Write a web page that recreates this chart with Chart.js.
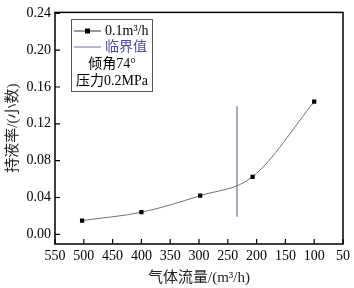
<!DOCTYPE html>
<html><head><meta charset="utf-8">
<script src="https://cdn.jsdelivr.net/npm/chart.js@4/dist/chart.umd.min.js"></script>
<style>html,body{margin:0;padding:0;background:#fff}#wrap{width:354px;height:288px}</style>
</head><body><div id="wrap"><canvas id="c" width="354" height="288"></canvas></div>
<script>
const flowRates = [503, 400, 298, 207, 100];
const holdup = [0.015, 0.024, 0.042, 0.0625, 0.144];
const criticalFlow = [234, 234];
const criticalHoldup = [0.019, 0.139];
const xTicks = [550, 500, 450, 400, 350, 300, 250, 200, 150, 100, 50];
const yTicks = [0.00, 0.04, 0.08, 0.12, 0.16, 0.20, 0.24];
const seriesLabel = '0.1m³/h';
const criticalLabel = '临界值';
const noteLines = ['倾角74°', '压力0.2MPa'];
const xTitle = '气体流量/(m³/h)';
const yTitle = '持液率/(小数)';

const SERIF = '"Liberation Serif", "Noto Sans CJK SC", serif';
const lineColor = '#707070';
const critColor = '#6a6aa8';

const framePlugin = {
  id: 'frame',
  afterDraw(chart) {
    const ctx = chart.ctx, a = chart.chartArea;
    const xs = chart.scales.x, ys = chart.scales.y;
    ctx.save();
    ctx.strokeStyle = '#000'; ctx.lineWidth = 1.5;
    ctx.strokeRect(a.left, a.top, a.right - a.left, a.bottom - a.top);
    ctx.lineWidth = 1.2;
    ctx.beginPath();
    xTicks.forEach(v => { const p = xs.getPixelForValue(v); ctx.moveTo(p, a.bottom); ctx.lineTo(p, a.bottom - 5); });
    yTicks.forEach(v => { const p = ys.getPixelForValue(v); ctx.moveTo(a.left, p); ctx.lineTo(a.left + 5, p); });
    ctx.stroke();
    // legend box
    const bx = 71, by = 19, bw = 81, bh = 72;
    ctx.lineWidth = 1; ctx.strokeStyle = '#555';
    ctx.strokeRect(bx + 0.5, by + 0.5, bw, bh);
    ctx.font = '14px ' + SERIF; ctx.textBaseline = 'middle';
    ctx.strokeStyle = '#333'; ctx.beginPath(); ctx.moveTo(74, 31); ctx.lineTo(101, 31); ctx.stroke();
    ctx.fillStyle = '#000'; ctx.fillRect(85, 28.5, 5, 5);
    ctx.fillText(seriesLabel, 105, 31);
    ctx.strokeStyle = critColor; ctx.beginPath(); ctx.moveTo(74, 47); ctx.lineTo(101, 47); ctx.stroke();
    ctx.fillStyle = '#4a4aa0'; ctx.fillText(criticalLabel, 105, 47);
    ctx.fillStyle = '#000'; ctx.textAlign = 'center';
    ctx.fillText(noteLines[0], 112, 64);
    ctx.fillText(noteLines[1], 112, 81);
    ctx.restore();
  }
};

new Chart(document.getElementById('c'), {
  type: 'scatter',
  data: {
    datasets: [
      { label: seriesLabel, data: flowRates.map((x, i) => ({x, y: holdup[i]})), showLine: true,
        borderColor: lineColor, borderWidth: 1, cubicInterpolationMode: 'monotone',
        pointStyle: 'rect', pointRadius: 3, pointBackgroundColor: '#000', pointBorderColor: '#000', pointBorderWidth: 0 },
      { label: criticalLabel, data: criticalFlow.map((x, i) => ({x, y: criticalHoldup[i]})), showLine: true,
        borderColor: critColor, borderWidth: 1.2, pointRadius: 0 }
    ]
  },
  options: {
    responsive: false, animation: false, devicePixelRatio: 1,
    layout: { padding: { top: 8, right: 9, left: 0, bottom: 0 } },
    plugins: { legend: { display: false }, tooltip: { enabled: false } },
    scales: {
      x: { type: 'linear', reverse: true, min: 50, max: 550,
        afterBuildTicks: s => { s.ticks = xTicks.map(v => ({value: v})); },
        afterFit: s => { s.height = 44; },
        grid: { display: false, drawTicks: false }, border: { display: false },
        ticks: { color: '#000', font: { family: SERIF, size: 14 }, padding: 4, maxRotation: 0, autoSkip: false },
        title: { display: true, text: xTitle, color: '#222', font: { family: SERIF, size: 15 }, padding: { top: 0, bottom: 1 } } },
      y: { type: 'linear', min: -0.0105, max: 0.241,
        afterBuildTicks: s => { s.ticks = yTicks.map(v => ({value: v})); },
        afterFit: s => { s.width = 55; },
        grid: { display: false, drawTicks: false }, border: { display: false },
        ticks: { color: '#000', font: { family: SERIF, size: 14 }, padding: 4, callback: v => v.toFixed(2) },
        title: { display: true, text: yTitle, color: '#222', font: { family: SERIF, size: 15 }, padding: { top: 4, bottom: 0 } } }
    }
  },
  plugins: [framePlugin]
});
</script></body></html>
